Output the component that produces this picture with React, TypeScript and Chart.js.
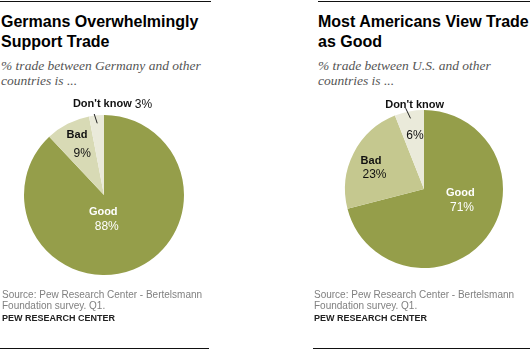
import React, { useEffect, useRef } from "react";
import { Chart, registerables } from "chart.js";

Chart.register(...registerables);

const categories = ["Good", "Bad", "Don't know"];
const germanyValues = [88, 9, 3];
const usValues = [71, 23, 6];
const germanyColors = ["#959e4a", "#d8dab5", "#eaeada"];
const usColors = ["#959e4a", "#c5c88f", "#eaeada"];

type LabelCfg = {
  mode: "inside" | "inline" | "above";
  rFrac?: number;
  name?: { dx: number; dy: number };
  pct?: { dx: number; dy: number };
  color?: string;
  lineFrom?: number;
  lineTo?: number;
  lineAngle?: number;
  text?: { dx: number; dy: number };
};

const germanyLabels: LabelCfg[] = [
  { mode: "inside", rFrac: 0.3, name: { dx: -9.6, dy: -5.6 }, pct: { dx: -6.1, dy: 9.4 }, color: "#ffffff" },
  { mode: "inside", rFrac: 0.7, name: { dx: -1.6, dy: -10 }, pct: { dx: 3.7, dy: 8.2 }, color: "#111111" },
  { mode: "inline", lineFrom: 1.02, lineTo: 0.9, lineAngle: -1.5, text: { dx: -21.3, dy: -9.8 } },
];

const usLabels: LabelCfg[] = [
  { mode: "inside", rFrac: 0.5, name: { dx: 5.1, dy: -20.5 }, pct: { dx: 6.8, dy: -5.9 }, color: "#ffffff" },
  { mode: "inside", rFrac: 0.6, name: { dx: -10.8, dy: -6.8 }, pct: { dx: -7.3, dy: 7.5 }, color: "#111111" },
  { mode: "above", rFrac: 0.68, pct: { dx: 1, dy: -0.6 }, lineFrom: 1.05, lineTo: 0.91, lineAngle: -2, text: { dx: 9, dy: -3.5 }, color: "#111111" },
];

const NAME_FONT = "bold 11px 'Liberation Sans', Arial, sans-serif";
const PCT_FONT = "12px 'Liberation Sans', Arial, sans-serif";

function makeLabelPlugin(cfgs: LabelCfg[], values: number[]) {
  return {
    id: "pieLabels",
    afterDraw(chart: any) {
      const ctx = chart.ctx;
      const meta = chart.getDatasetMeta(0);
      ctx.save();
      ctx.textBaseline = "middle";
      meta.data.forEach((el: any, i: number) => {
        const cfg = cfgs[i];
        const { x, y, startAngle, endAngle, outerRadius } = el.getProps(
          ["x", "y", "startAngle", "endAngle", "outerRadius"],
          true
        );
        const mid = (startAngle + endAngle) / 2;
        const name = categories[i];
        const pctText = values[i] + "%";
        if (cfg.mode === "inside" || cfg.mode === "above") {
          const r = (cfg.rFrac || 0.5) * outerRadius;
          const ax = x + Math.cos(mid) * r;
          const ay = y + Math.sin(mid) * r;
          ctx.textAlign = "center";
          if (cfg.mode === "inside" && cfg.name) {
            ctx.fillStyle = cfg.color;
            ctx.font = NAME_FONT;
            ctx.fillText(name, ax + cfg.name.dx, ay + cfg.name.dy);
          }
          if (cfg.pct) {
            ctx.fillStyle = cfg.color;
            ctx.font = PCT_FONT;
            ctx.fillText(pctText, ax + cfg.pct.dx, ay + cfg.pct.dy);
          }
        }
        if (cfg.mode === "inline" || cfg.mode === "above") {
          const a = mid + ((cfg.lineAngle || 0) * Math.PI) / 180;
          const sx = x + Math.cos(a) * outerRadius * (cfg.lineFrom || 1);
          const sy = y + Math.sin(a) * outerRadius * (cfg.lineFrom || 1);
          const ex = x + Math.cos(mid) * outerRadius * (cfg.lineTo || 0.9);
          const ey = y + Math.sin(mid) * outerRadius * (cfg.lineTo || 0.9);
          ctx.strokeStyle = "#222";
          ctx.lineWidth = 1;
          ctx.beginPath();
          ctx.moveTo(sx, sy);
          ctx.lineTo(ex, ey);
          ctx.stroke();
          const t = cfg.text || { dx: 0, dy: 0 };
          ctx.fillStyle = "#111";
          ctx.font = NAME_FONT;
          if (cfg.mode === "inline") {
            ctx.textAlign = "left";
            const tx = sx + t.dx;
            ctx.fillText(name, tx, sy + t.dy);
            const w = ctx.measureText(name).width;
            ctx.font = PCT_FONT;
            ctx.fillText(pctText, tx + w + 3, sy + t.dy);
          } else {
            ctx.textAlign = "center";
            ctx.fillText(name, sx + t.dx, sy + t.dy);
          }
        }
      });
      ctx.restore();
    },
  };
}

function PieChart(props: {
  values: number[];
  colors: string[];
  labels: LabelCfg[];
  size: number;
  left: number;
  top: number;
}) {
  const ref = useRef<HTMLCanvasElement | null>(null);
  useEffect(() => {
    if (!ref.current) return;
    const chart = new Chart(ref.current, {
      type: "pie",
      data: {
        labels: categories,
        datasets: [
          {
            data: props.values,
            backgroundColor: props.colors,
            borderWidth: 0,
          },
        ],
      },
      options: {
        responsive: false,
        animation: false,
        layout: { padding: 20 },
        plugins: { legend: { display: false }, tooltip: { enabled: false } },
        events: [],
      },
      plugins: [makeLabelPlugin(props.labels, props.values)],
    });
    return () => chart.destroy();
  }, []);
  return (
    <canvas
      ref={ref}
      width={props.size}
      height={props.size}
      style={{ position: "absolute", left: props.left, top: props.top, width: props.size, height: props.size }}
    />
  );
}

const titleStyle: React.CSSProperties = {
  position: "absolute",
  top: 12,
  font: "bold 16px 'Liberation Sans', Arial, sans-serif",
  lineHeight: "20px",
  color: "#000",
  whiteSpace: "nowrap",
  margin: 0,
};
const subStyle: React.CSSProperties = {
  position: "absolute",
  top: 58,
  font: "italic 13.5px 'Liberation Serif', 'Times New Roman', serif",
  lineHeight: "15px",
  color: "#555",
  whiteSpace: "nowrap",
};
const srcStyle: React.CSSProperties = {
  position: "absolute",
  top: 289,
  font: "10px 'Liberation Sans', Arial, sans-serif",
  lineHeight: "11px",
  color: "#808080",
  whiteSpace: "nowrap",
};
const pewStyle: React.CSSProperties = {
  position: "absolute",
  top: 312.5,
  font: "bold 9px 'Liberation Sans', Arial, sans-serif",
  lineHeight: "11px",
  color: "#222",
  whiteSpace: "nowrap",
};
const rule = (left: number, top: number, width: number): React.CSSProperties => ({
  position: "absolute",
  left,
  top,
  width,
  height: 1,
  background: "#111",
});

export default function App() {
  return (
    <div style={{ position: "absolute", left: 0, top: 0, width: 530, height: 350, background: "#fff", overflow: "hidden" }}>
      <div style={rule(0, 1, 211)} />
      <div style={rule(318, 1, 212)} />
      <div style={{ ...titleStyle, left: 1 }}>
        Germans Overwhelmingly
        <br />
        Support Trade
      </div>
      <div style={{ ...titleStyle, left: 318 }}>
        Most Americans View Trade
        <br />
        as Good
      </div>
      <div style={{ ...subStyle, left: 1 }}>
        % trade between Germany and other
        <br />
        countries is ...
      </div>
      <div style={{ ...subStyle, left: 318 }}>
        % trade between U.S. and other
        <br />
        countries is ...
      </div>
      <PieChart values={germanyValues} colors={germanyColors} labels={germanyLabels} size={200} left={4} top={95} />
      <PieChart values={usValues} colors={usColors} labels={usLabels} size={198} left={325} top={90} />
      <div style={{ ...srcStyle, left: 2 }}>
        Source: Pew Research Center - Bertelsmann
        <br />
        Foundation survey. Q1.
      </div>
      <div style={{ ...srcStyle, left: 314 }}>
        Source: Pew Research Center - Bertelsmann
        <br />
        Foundation survey. Q1.
      </div>
      <div style={{ ...pewStyle, left: 2 }}>PEW RESEARCH CENTER</div>
      <div style={{ ...pewStyle, left: 314 }}>PEW RESEARCH CENTER</div>
      <div style={rule(0, 348, 209)} />
      <div style={rule(313, 348, 217)} />
    </div>
  );
}
